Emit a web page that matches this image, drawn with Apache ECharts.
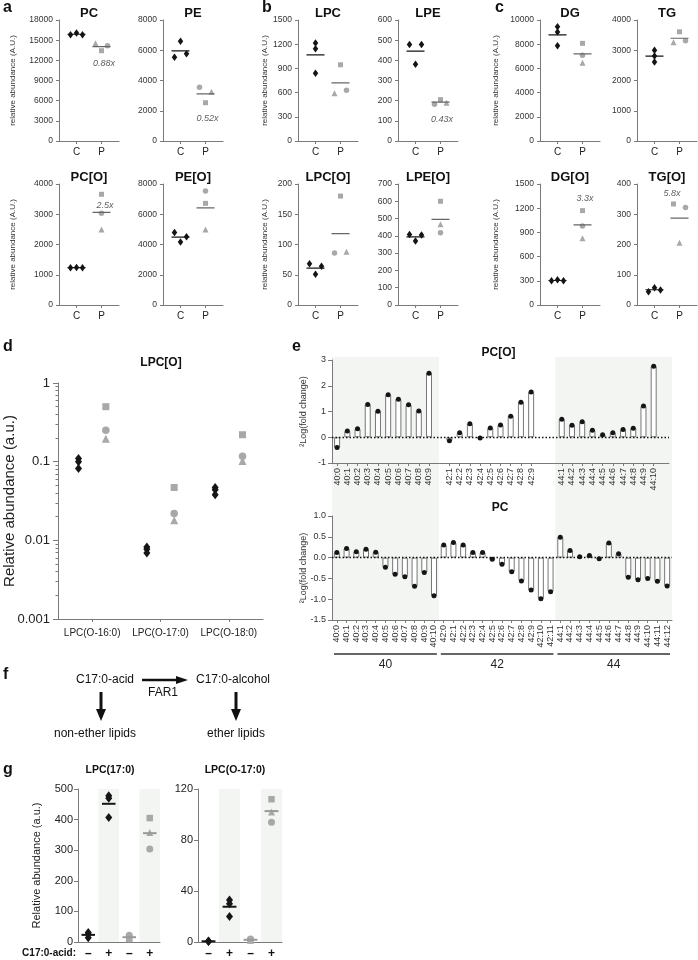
<!DOCTYPE html>
<html>
<head>
<meta charset="utf-8">
<script src="https://cdn.jsdelivr.net/npm/echarts@6/dist/echarts.min.js"></script>
<style>
  html, body { margin: 0; padding: 0; background: #fff; }
  #chart { width: 698px; height: 960px; }
</style>
</head>
<body>
<div id="chart"></div>
<script>
// ---- a-c: lipid class totals, controls (C) vs patients (P) ----
const lipidClasses = ['PC', 'PE', 'PC[O]', 'PE[O]', 'LPC', 'LPE', 'LPC[O]', 'LPE[O]', 'DG', 'TG', 'DG[O]', 'TG[O]'];
const classMax  = [18000, 8000, 4000, 8000, 1500, 600, 200, 700, 10000, 4000, 1500, 400];
const classStep = [3000, 2000, 1000, 2000, 300, 100, 50, 100, 2000, 1000, 300, 100];
const ctrlVals = [
  [15800, 16050, 15800], [5530, 6590, 5770], [1230, 1240, 1230], [4800, 4160, 4510],
  [1215, 1145, 840], [478, 380, 478], [68, 51, 64], [408, 370, 405],
  [9440, 9010, 7880], [3000, 2810, 2610], [300, 312, 300], [44, 57, 50]
];
const patSquare   = [13430, 2530, 3660, 6720, 945, 205, 180, 600, 8070, 3610, 1170, 334];
const patCircle   = [14180, 3550, 3030, 7540, 628, 182, 86, 418, 7080, 3316, 980, 322];
const patTriangle = [14530, 3260, 2500, 5000, 591, 190, 88, 467, 6470, 3263, 827, 206];
const foldLabels  = ['0.88x', '0.52x', '2.5x', '', '', '0.43x', '', '', '', '', '3.3x', '5.8x'];

// ---- d: LPC[O] species (log scale) ----
const lpcoSpecies  = ['LPC(O-16:0)', 'LPC(O-17:0)', 'LPC(O-18:0)'];
const lpcoCtrl     = [[0.11, 0.10, 0.082], [0.0082, 0.0077, 0.0069], [0.047, 0.044, 0.038]];
const lpcoSquare   = [0.50, 0.047, 0.22];
const lpcoCircle   = [0.25, 0.022, 0.117];
const lpcoTriangle = [0.195, 0.018, 0.102];

// ---- e: 2log fold change per species ----
const pcoCats = ['40:0', '40:1', '40:2', '40:3', '40:4', '40:5', '40:6', '40:7', '40:8', '40:9', '',
  '42:1', '42:2', '42:3', '42:4', '42:5', '42:6', '42:7', '42:8', '42:9', '', '',
  '44:1', '44:2', '44:3', '44:4', '44:5', '44:6', '44:7', '44:8', '44:9', '44:10', ''];
const pcoVals = [-0.40, 0.24, 0.33, 1.27, 1.01, 1.65, 1.48, 1.26, 1.02, 2.49, null,
  -0.14, 0.17, 0.52, -0.03, 0.36, 0.48, 0.82, 1.36, 1.76, null, null,
  0.70, 0.47, 0.60, 0.27, 0.10, 0.17, 0.30, 0.35, 1.21, 2.76, null];
const pcCats = ['40:0', '40:1', '40:2', '40:3', '40:4', '40:5', '40:6', '40:7', '40:8', '40:9', '40:10',
  '42:0', '42:1', '42:2', '42:3', '42:4', '42:5', '42:6', '42:7', '42:8', '42:9', '42:10', '42:11',
  '44:1', '44:2', '44:3', '44:4', '44:5', '44:6', '44:7', '44:8', '44:9', '44:10', '44:11', '44:12'];
const pcVals = [0.12, 0.22, 0.14, 0.20, 0.13, -0.23, -0.40, -0.46, -0.69, -0.36, -0.92,
  0.30, 0.36, 0.30, 0.12, 0.12, -0.04, -0.16, -0.34, -0.56, -0.78, -0.99, -0.82,
  0.49, 0.17, 0.02, 0.05, -0.03, 0.35, 0.09, -0.47, -0.53, -0.50, -0.57, -0.68];

// ---- g: C17:0-acid feeding ----
const acidCats = ['–', '+', '–', '+'];
const lpc170Black    = [[31, 25, 14], [478, 470, 407]];
const lpc170Square   = [10, 405];
const lpc170Circle   = [22, 304];
const lpc170Triangle = [15, 358];
const lpcO170Black    = [[0.8, 0.5, 0.4], [33, 30, 20]];
const lpcO170Square   = [1.2, 112];
const lpcO170Circle   = [2.4, 94];
const lpcO170Triangle = [1.6, 102];

// layout helpers (not data)
const ctrlSpread = [1, 1, 1, 1, 0, 1, 1, 1, 0, 0, 1, 1];
const patOrder = ['tsc', 'cst', '', '', 'tsc', 'cst', 'cst', '', '', 'tsc', '', 'stc'];
const foldAt = [[2.1, 11600], [2.08, 1500], [2.14, 3280], null, null, [2.06, 108],
  null, null, null, null, [2.1, 1323], [1.7, 367]];

const FONT = '"Liberation Sans", Arial, sans-serif';
const AXIS_COLOR = '#7a7a7a';
const BLACK = '#151515';
const GREY = '#a8a8a8';
const SHADE = '#f2f5f2';

const grids = [], xAxes = [], yAxes = [], series = [], graphics = [];
const addGrid = g => { grids.push(Object.assign({ outerBoundsMode: 'none' }, g)); return grids.length - 1; };
const addX = a => { xAxes.push(a); return xAxes.length - 1; };
const addY = a => { yAxes.push(a); return yAxes.length - 1; };
const avg = arr => arr.reduce((s, v) => s + v, 0) / arr.length;

function axis(gridIndex, fs, extra) {
  const a = {
    gridIndex,
    nameMoveOverlap: false,
    axisLine: { show: true, onZero: false, lineStyle: { color: AXIS_COLOR, width: 1 } },
    axisTick: { show: true, length: 3, lineStyle: { color: AXIS_COLOR } },
    axisLabel: { fontSize: fs, color: '#333', fontFamily: FONT },
    splitLine: { show: false },
    nameTextStyle: { fontFamily: FONT, color: '#333' }
  };
  for (const k in extra) {
    const v = extra[k];
    if (a[k] && typeof a[k] === 'object' && v && typeof v === 'object' && !Array.isArray(v)) Object.assign(a[k], v);
    else a[k] = v;
  }
  return a;
}

function scatter(xi, yi, data, symbol, size, color) {
  series.push({ type: 'scatter', xAxisIndex: xi, yAxisIndex: yi, data, symbol, symbolSize: size,
    itemStyle: { color, opacity: 1 }, z: 3, silent: true });
}

function meanLine(xi, yi, x, vals, color, half, width) {
  const m = avg(vals);
  series.push({ type: 'line', xAxisIndex: xi, yAxisIndex: yi, data: [[x - half, m], [x + half, m]],
    symbol: 'none', lineStyle: { color, width }, z: 4, silent: true });
}

function txt(text, x, y, font, align, color) {
  graphics.push({ type: 'text', x, y, silent: true,
    style: { text, font: font + ' ' + FONT, fill: color || '#111', textAlign: align || 'left', textVerticalAlign: 'middle' } });
}

function shading(xi, yi, bands, y0, y1) {
  series.push({ type: 'custom', xAxisIndex: xi, yAxisIndex: yi, z: -1, silent: true, data: bands,
    renderItem: (params, api) => {
      const p0 = api.coord([api.value(0), y1]);
      const p1 = api.coord([api.value(1), y0]);
      return { type: 'rect', shape: { x: p0[0], y: p0[1], width: p1[0] - p0[0], height: p1[1] - p0[1] }, style: { fill: SHADE } };
    } });
}

// ================= a-c =================
lipidClasses.forEach((name, i) => {
  const block = Math.floor(i / 4), col = i % 2, row = Math.floor((i % 4) / 2);
  const left = [[59, 163], [298, 398], [540, 637]][block][col];
  const top = row ? 184 : 20;
  const gi = addGrid({ left, top, width: 60, height: 121 });
  const xi = addX(axis(gi, 10, {
    type: 'value', min: 0.3, max: 2.7,
    axisTick: { customValues: [1, 2] },
    axisLabel: { customValues: [1, 2], formatter: v => (v < 1.5 ? 'C' : 'P'), margin: 6, color: '#222' }
  }));
  const yi = addY(axis(gi, 8.5, {
    type: 'value', min: 0, max: classMax[i], interval: classStep[i],
    axisLabel: { margin: 6, formatter: v => String(v) },
    name: col === 0 ? 'relative abundance (A.U.)' : '', nameLocation: 'middle', nameRotate: 90,
    nameGap: [42, 29, 40][block], nameTextStyle: { fontSize: 8 }
  }));
  txt(name, left + 30, top - 7, 'bold 13px', 'center');

  const cOff = ctrlSpread[i] ? [-0.24, 0, 0.24] : [0, 0, 0];
  scatter(xi, yi, ctrlVals[i].map((v, k) => [1 + cOff[k], v]), 'diamond', [5.5, 7.5], BLACK);
  meanLine(xi, yi, 1, ctrlVals[i], BLACK, 0.36, 1.2);

  const ord = patOrder[i];
  const off = s => (ord ? [-0.24, 0, 0.24][ord.indexOf(s)] : 0);
  scatter(xi, yi, [[2 + off('s'), patSquare[i]]], 'rect', 5, GREY);
  scatter(xi, yi, [[2 + off('c'), patCircle[i]]], 'circle', 5.5, GREY);
  scatter(xi, yi, [[2 + off('t'), patTriangle[i]]], 'triangle', 6, GREY);
  meanLine(xi, yi, 2, [patSquare[i], patCircle[i], patTriangle[i]], '#666', 0.36, 1.2);

  if (foldLabels[i]) {
    series.push({ type: 'scatter', xAxisIndex: xi, yAxisIndex: yi, data: [foldAt[i]], symbolSize: 1,
      itemStyle: { color: 'transparent' }, silent: true, z: 5,
      label: { show: true, position: 'inside', formatter: foldLabels[i], fontSize: 9,
        fontStyle: 'italic', color: '#333', fontFamily: FONT } });
  }
});
txt('a', 3, 8, 'bold 16px', 'left');
txt('b', 262, 8, 'bold 16px', 'left');
txt('c', 495, 8, 'bold 16px', 'left');

// ================= d =================
(function () {
  const gi = addGrid({ left: 58, top: 383, width: 205, height: 236 });
  const centers = lpcoSpecies.map((s, k) => k + 0.5);
  const xi = addX(axis(gi, 10, {
    type: 'value', min: 0, max: 3,
    axisTick: { customValues: centers },
    axisLabel: { customValues: centers, formatter: v => lpcoSpecies[Math.round(v - 0.5)], margin: 9, color: '#222' }
  }));
  const yi = addY(axis(gi, 13, {
    type: 'log', logBase: 10, min: 0.001, max: 1,
    axisTick: { length: 5 },
    minorTick: { show: true, splitNumber: 9, length: 2.5, lineStyle: { color: AXIS_COLOR } },
    axisLabel: { formatter: v => String(+(+v).toPrecision(1)), margin: 8, color: '#222' },
    name: 'Relative abundance (a.u.)', nameLocation: 'middle', nameRotate: 90, nameGap: 41,
    nameTextStyle: { fontSize: 15, color: '#222' }
  }));
  lpcoSpecies.forEach((s, k) => {
    scatter(xi, yi, lpcoCtrl[k].map(v => [centers[k] - 0.2, v]), 'diamond', [7, 9], BLACK);
    scatter(xi, yi, [[centers[k] + 0.2, lpcoTriangle[k]]], 'triangle', 8, GREY);
    scatter(xi, yi, [[centers[k] + 0.2, lpcoCircle[k]]], 'circle', 7.5, GREY);
    scatter(xi, yi, [[centers[k] + 0.2, lpcoSquare[k]]], 'rect', 7, GREY);
  });
  txt('LPC[O]', 161, 363, 'bold 12px', 'center');
  txt('d', 3, 347, 'bold 16px', 'left');
})();

// ================= e =================
function groupBands(cats) {
  const bands = [];
  cats.forEach((c, i) => {
    const g = c.split(':')[0];
    const last = bands[bands.length - 1];
    if (last && last.name === g) last.end = i + 0.5;
    else bands.push({ name: g, start: i - 0.5, end: i + 0.5 });
  });
  return bands;
}

(function () {
  // shading + group brackets share the bottom chart's category layout
  const bands = groupBands(pcCats);
  const go = addGrid({ left: 332, top: 357, width: 340, height: 263 });
  const ox = addX({ gridIndex: go, type: 'value', min: -0.5, max: pcCats.length - 0.5, show: false });
  const oy = addY({ gridIndex: go, type: 'value', min: 0, max: 1, show: false });
  shading(ox, oy, bands.filter((b, k) => k % 2 === 0).map(b => [b.start, b.end]), 0, 1);
  series.push({ type: 'custom', xAxisIndex: ox, yAxisIndex: oy, silent: true, clip: false,
    data: bands.map(b => [b.start, b.end]),
    renderItem: (params, api) => {
      const a = api.coord([api.value(0), 0]);
      const b = api.coord([api.value(1), 0]);
      const y = a[1] + 34;
      return { type: 'group', children: [
        { type: 'line', shape: { x1: a[0] + 2, y1: y, x2: b[0] - 2, y2: y }, style: { stroke: '#333', lineWidth: 1.5 } },
        { type: 'text', x: (a[0] + b[0]) / 2, y: y + 11,
          style: { text: bands[params.dataIndex].name, font: '12px ' + FONT, fill: '#222', textAlign: 'center', textVerticalAlign: 'middle' } }
      ] };
    } });

  const charts = [
    { cats: pcoCats, vals: pcoVals, top: 360, height: 103, width: 337, min: -1, max: 3, step: 1, dec: 0, title: 'PC[O]', ty: 353 },
    { cats: pcCats, vals: pcVals, top: 516, height: 104, width: 340, min: -1.5, max: 1, step: 0.5, dec: 1, title: 'PC', ty: 508 }
  ];
  charts.forEach(c => {
    const gi = addGrid({ left: 332, top: c.top, width: c.width, height: c.height });
    const xi = addX(axis(gi, 9, {
      type: 'category', data: c.cats, boundaryGap: true,
      axisTick: { alignWithLabel: true, interval: (idx, v) => v !== '' },
      axisLabel: { interval: 0, rotate: 90, margin: 5 }
    }));
    const yi = addY(axis(gi, 9, {
      type: 'value', min: c.min, max: c.max, interval: c.step,
      axisTick: { length: 4 },
      axisLabel: { formatter: v => v.toFixed(c.dec), margin: 6 },
      name: '²Log(fold change)', nameLocation: 'middle', nameRotate: 90, nameGap: 24,
      nameTextStyle: { fontSize: 9 }
    }));
    series.push({ type: 'bar', xAxisIndex: xi, yAxisIndex: yi, data: c.vals, barWidth: 6, silent: true,
      itemStyle: { color: '#fff', borderColor: '#777', borderWidth: 1 },
      markLine: { silent: true, symbol: 'none', label: { show: false },
        lineStyle: { type: [1.5, 2], color: '#111', width: 1.3 }, data: [{ yAxis: 0 }] } });
    scatter(xi, yi, c.vals, 'circle', 5, BLACK);
    txt(c.title, 332 + c.width / 2 - 2, c.ty, 'bold 12px', 'center');
  });
  txt('e', 292, 347, 'bold 16px', 'left');
})();

// ================= f =================
(function () {
  const f13 = '12px';
  txt('C17:0-acid', 105, 680, f13, 'center');
  txt('C17:0-alcohol', 233, 680, f13, 'center');
  txt('FAR1', 163, 693, f13, 'center');
  txt('non-ether lipids', 95, 734, f13, 'center');
  txt('ether lipids', 236, 734, f13, 'center');
  graphics.push({ type: 'line', silent: true, shape: { x1: 142, y1: 680, x2: 178, y2: 680 }, style: { stroke: '#111', lineWidth: 2.5 } });
  graphics.push({ type: 'polygon', silent: true, shape: { points: [[176, 676], [188, 680], [176, 684]] }, style: { fill: '#111' } });
  [101, 236].forEach(x => {
    graphics.push({ type: 'line', silent: true, shape: { x1: x, y1: 692, x2: x, y2: 710 }, style: { stroke: '#111', lineWidth: 3 } });
    graphics.push({ type: 'polygon', silent: true, shape: { points: [[x - 5, 709], [x, 721], [x + 5, 709]] }, style: { fill: '#111' } });
  });
  txt('f', 3, 675, 'bold 16px', 'left');
})();

// ================= g =================
function feedPanel(left, width, max, step, black, sq, ci, tr, yName, title, titleX) {
  const gi = addGrid({ left, top: 789, width, height: 153 });
  const pos = acidCats.map((c, k) => k + 0.5);
  const xi = addX(axis(gi, 12, {
    type: 'value', min: 0, max: acidCats.length,
    axisTick: { show: false },
    axisLabel: { customValues: pos, formatter: v => acidCats[Math.round(v - 0.5)], fontWeight: 'bold', color: '#111', margin: 6 }
  }));
  const yi = addY(axis(gi, 11, {
    type: 'value', min: 0, max, interval: step,
    axisTick: { length: 4 },
    axisLabel: { margin: 5, color: '#222' },
    name: yName, nameLocation: 'middle', nameRotate: 90, nameGap: 36, nameTextStyle: { fontSize: 11, color: '#222' }
  }));
  shading(xi, yi, acidCats.map((c, k) => (c === '+' ? [k, k + 1] : null)).filter(Boolean), 0, max);
  black.forEach((vals, k) => {
    scatter(xi, yi, vals.map(v => [pos[k], v]), 'diamond', [7, 9], BLACK);
    meanLine(xi, yi, pos[k], vals, BLACK, 0.33, 2);
  });
  sq.forEach((v, k) => {
    const x = pos[k + black.length];
    scatter(xi, yi, [[x, tr[k]]], 'triangle', 7, GREY);
    scatter(xi, yi, [[x, ci[k]]], 'circle', 7, GREY);
    scatter(xi, yi, [[x, sq[k]]], 'rect', 6.5, GREY);
    meanLine(xi, yi, x, [sq[k], ci[k], tr[k]], '#999', 0.33, 2);
  });
  txt(title, titleX, 770, 'bold 10.5px', 'center');
}
feedPanel(78, 82, 500, 100, lpc170Black, lpc170Square, lpc170Circle, lpc170Triangle, 'Relative abundance (a.u.)', 'LPC(17:0)', 110);
feedPanel(198, 84, 120, 40, lpcO170Black, lpcO170Square, lpcO170Circle, lpcO170Triangle, '', 'LPC(O-17:0)', 235);
txt('C17:0-acid:', 76, 953, 'bold 10px', 'right');
txt('g', 3, 770, 'bold 16px', 'left');

const chart = echarts.init(document.getElementById('chart'), null, { renderer: 'canvas' });
chart.setOption({
  animation: false,
  backgroundColor: '#fff',
  textStyle: { fontFamily: FONT },
  grid: grids,
  xAxis: xAxes,
  yAxis: yAxes,
  series,
  graphic: graphics
});
</script>
</body>
</html>
